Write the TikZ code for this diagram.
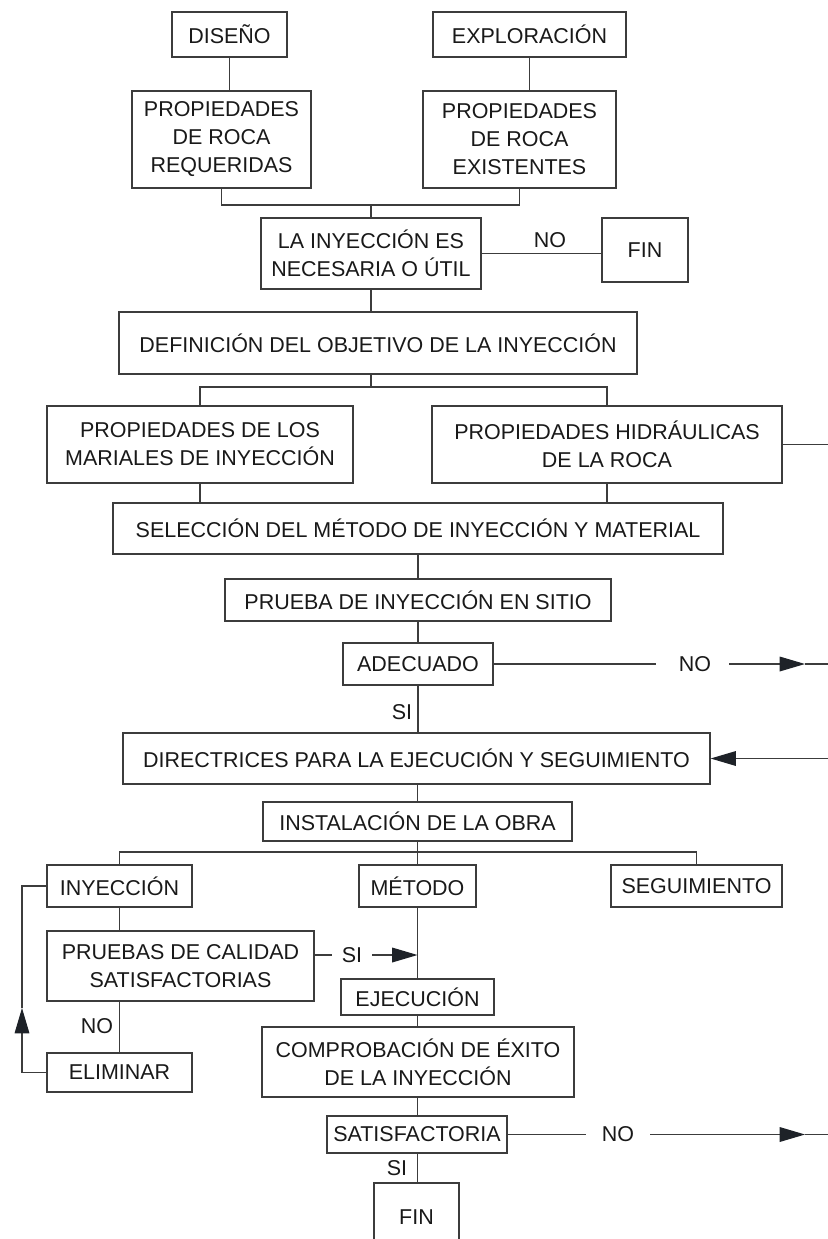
\documentclass[tikz,border=0pt]{standalone}
\usepackage{fontspec}
\setmainfont{Liberation Sans}
\usetikzlibrary{arrows.meta}
\definecolor{linec}{RGB}{60,60,60}
\definecolor{textc}{RGB}{25,25,25}
\definecolor{tipc}{RGB}{30,34,40}
\newcommand\bxfont{\fontsize{16.1}{21}\selectfont}
\tikzset{
 box/.style={draw=linec, line width=0.9pt, inner sep=0pt, align=center, font=\bxfont, text=textc},
 sz/.style 2 args={minimum width=#1*0.75pt, minimum height=#2*0.75pt},
 lbl/.style={inner sep=0pt, font=\bxfont, text=textc},
 con/.style={draw=linec, line width=0.9pt},
 arr/.style={con, -{Triangle[length=19pt, width=11pt, color=tipc]}},
}
\begin{document}
\begin{tikzpicture}[x=0.75pt,y=-0.75pt]
\useasboundingbox (0,0) rectangle (828,1239);
\clip (0,0) rectangle (828,1239);
\fill[white] (0,0) rectangle (828,1239);

\node[box,sz={115}{45}] (dis) at (229.5,34.5) {DISEÑO};
\node[box,sz={193}{45}] (exp) at (529.5,34.5) {EXPLORACIÓN};
\node[box,sz={179}{97}] (preq) at (221.5,139.5) {PROPIEDADES\\DE ROCA\\REQUERIDAS};
\node[box,sz={193}{97}] (pexi) at (519.5,139.5) {PROPIEDADES\\DE ROCA\\EXISTENTES};
\node[box,sz={220}{71}] (nec) at (371,253.5) {LA INYECCIÓN ES\\NECESARIA O ÚTIL};
\node[box,sz={86}{64}] (fin1) at (645,250) {FIN};
\node[box,sz={518}{62}] (def) at (378,343) {DEFINICIÓN DEL OBJETIVO DE LA INYECCIÓN};
\node[box,sz={306}{77}] (mat) at (200,444.5) {PROPIEDADES DE LOS\\MARIALES DE INYECCIÓN};
\node[box,sz={350}{77}] (hid) at (607,444.5) {PROPIEDADES HIDRÁULICAS\\DE LA ROCA};
\node[box,sz={610}{51}] (sel) at (418,528.5) {SELECCIÓN DEL MÉTODO DE INYECCIÓN Y MATERIAL};
\node[box,sz={386}{42}] (pru) at (418,600) {PRUEBA DE INYECCIÓN EN SITIO};
\node[box,sz={150}{42}] (ade) at (418,664) {ADECUADO};
\node[box,sz={587}{51}] (dir) at (416.5,758.5) {DIRECTRICES PARA LA EJECUCIÓN Y SEGUIMIENTO};
\node[box,sz={309}{39}] (ins) at (417.5,821.5) {INSTALACIÓN DE LA OBRA};
\node[box,sz={145}{42}] (iny) at (119.5,886) {INYECCIÓN};
\node[box,sz={117}{42}] (met) at (417.5,886) {MÉTODO};
\node[box,sz={171}{42}] (seg) at (696.5,886) {SEGUIMIENTO};
\node[box,sz={267}{70}] (pca) at (180.5,966) {PRUEBAS DE CALIDAD\\SATISFACTORIAS};
\node[box,sz={145}{39}] (eli) at (119.5,1072.5) {ELIMINAR};
\node[box,sz={153}{36}] (eje) at (417.5,997) {EJECUCIÓN};
\node[box,sz={312}{70}] (com) at (418,1062) {COMPROBACIÓN DE ÉXITO\\DE LA INYECCIÓN};
\node[box,sz={180}{37}] (sat) at (417,1134.5) {SATISFACTORIA};
\node[box,sz={85}{100}] (fin2) at (416.5,1233) {};
\node[lbl] (fin2t) at (416.5,1217) {FIN};

% top merge
\coordinate (m1) at (371,205);
\draw[con] (dis.south) -- (dis.south |- preq.north);
\draw[con] (exp.south) -- (exp.south |- pexi.north);
\draw[con] (preq.south) |- (m1) -| (pexi.south);
\draw[con] (m1) -- (m1 |- nec.north);
\draw[con] (nec.east) -- (nec.east -| fin1.west);
\node[lbl] (no1) at (550,240) {NO};
\draw[con] (nec.south) -- (nec.south |- def.north);

% split to properties
\coordinate (m2) at (371,387);
\draw[con] (m2 |- def.south) -- (m2);
\draw[con] (mat.north) |- (m2) -| (hid.north);
\coordinate (h1) at (830,444.5);
\draw[con] (hid.east) -- (h1);
\draw[con] (mat.south) -- (mat.south |- sel.north);
\draw[con] (hid.south) -- (hid.south |- sel.north);
\draw[con] (sel.south) -- (pru.north);
\draw[con] (pru.south) -- (ade.north);

% adecuado NO
\coordinate (a1) at (656,664);
\coordinate (a2) at (729,664);
\coordinate (a3) at (805,664);
\coordinate (a4) at (830,664);
\draw[con] (ade.east) -- (a1);
\node[lbl] (no2) at (695,664) {NO};
\draw[arr] (a2) -- (a3);
\draw[con] (a3) -- (a4);
\draw[con] (ade.south) -- (ade.south |- dir.north);
\node[lbl] (si1) at (402,712) {SI};
\coordinate (d1) at (830,758.5);
\draw[arr] (d1) -- (dir.east);
\draw[con] (ins.north |- dir.south) -- (ins.north);

% split to three
\coordinate (m3) at (417.5,852);
\draw[con] (ins.south) -- (m3);
\draw[con] (iny.north) |- (m3) -| (seg.north);
\draw[con] (m3) -- (met.north);
\draw[con] (iny.south) -- (iny.south |- pca.north);
\draw[con] (eli.north |- pca.south) -- (eli.north);
\node[lbl] (no3) at (97,1026) {NO};
\coordinate (l1) at (22,1008);
\draw[arr] (eli.west) -| (l1);
\draw[con] (l1) |- (iny.west);

% SI arrow into method line
\coordinate (s0) at (pca.east |- 0,955);
\coordinate (s1) at (332,955);
\coordinate (s2) at (372,955);
\coordinate (s3) at (met.south |- 0,955);
\draw[con] (s0) -- (s1);
\node[lbl] (si2) at (352,955) {SI};
\draw[arr] (s2) -- (s3);
\draw[con] (met.south) -- (eje.north);
\draw[con] (eje.south) -- (eje.south |- com.north);
\draw[con] (eje.south |- com.south) -- (eje.south |- sat.north);
\draw[con] (eje.south |- sat.south) -- (eje.south |- fin2.north);

% satisfactoria NO
\coordinate (b1) at (586,1134.5);
\coordinate (b2) at (650,1134.5);
\coordinate (b3) at (805,1134.5);
\coordinate (b4) at (830,1134.5);
\draw[con] (sat.east) -- (b1);
\node[lbl] (no4) at (618,1134.5) {NO};
\draw[arr] (b2) -- (b3);
\draw[con] (b3) -- (b4);
\node[lbl] (si3) at (397,1168) {SI};
\end{tikzpicture}
\end{document}
